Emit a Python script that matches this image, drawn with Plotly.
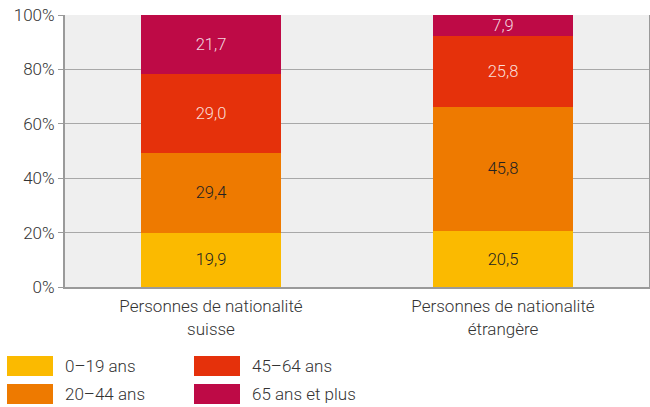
import plotly.graph_objects as go

categories = ["Personnes de nationalité<br>suisse", "Personnes de nationalité<br>étrangère"]
series_names = ["0–19 ans", "20–44 ans", "45–64 ans", "65 ans et plus"]
values_0_19 = [19.9, 20.5]
values_20_44 = [29.4, 45.8]
values_45_64 = [29.0, 25.8]
values_65 = [21.7, 7.9]
y_tick_vals = [0, 20, 40, 60, 80, 100]
y_tick_text = ["0%", "20%", "40%", "60%", "80%", "100%"]

colors = ["#FBBA00", "#EE7A00", "#E5310B", "#BE0A46"]
text_colors = ["#222222", "#222222", "rgba(255,255,255,0.85)", "rgba(255,255,255,0.85)"]
all_values = [values_0_19, values_20_44, values_45_64, values_65]

FONT = "Roboto"
FS = 17
PW = 584  # plot width in px
PH = 272  # plot height in px

fig = go.Figure()
for name, vals, col, tcol in zip(series_names, all_values, colors, text_colors):
    fig.add_trace(go.Bar(
        x=categories, y=vals, name=name,
        marker=dict(color=col, line=dict(width=0)),
        texttemplate="%{y:.1f}", textposition="inside", insidetextanchor="middle",
        textangle=0,
        textfont=dict(family=FONT, size=16.5, color=tcol, weight=300),
        showlegend=False,
    ))

# custom legend (two columns, wide patches)
legend_pos = [(7, 356), (7, 384), (194, 356), (194, 384)]
W, H = 650, 407
for (lx, ly), name, col in zip(legend_pos, series_names, colors):
    fig.add_shape(type="rect", xref="paper", yref="paper",
                  x0=(lx - 65) / PW, x1=(lx + 46 - 65) / PW,
                  y0=(287 - ly) / PH, y1=(287 - ly - 20) / PH,
                  fillcolor=col, line=dict(width=0), layer="above")
    fig.add_annotation(xref="paper", yref="paper",
                       x=(lx + 56 - 65) / PW, y=(287 - ly - 10) / PH,
                       text=name, showarrow=False, xanchor="left", yanchor="middle",
                       font=dict(family=FONT, size=FS, color="#333333", weight=300))

fig.update_layout(
    width=W, height=H,
    barmode="stack", bargap=0.521,
    separators=", ",
    uniformtext=dict(minsize=16.5, mode="show"),
    margin=dict(l=65, r=1, t=15, b=120, autoexpand=False),
    paper_bgcolor="white", plot_bgcolor="#EFEFEF",
    font=dict(family=FONT, size=FS, color="#333333", weight=300),
    showlegend=False,
)
fig.update_yaxes(range=[0, 100], tickvals=y_tick_vals, ticktext=y_tick_text,
                 showgrid=True, gridcolor="#A8A8A8", gridwidth=1,
                 showline=True, linecolor="#9A9A9A", linewidth=2, mirror=True,
                 ticks="outside", ticklen=5, tickcolor="#9A9A9A",
                 tickfont=dict(family=FONT, size=FS, color="#333333", weight=300),
                 zeroline=False, fixedrange=True, automargin=False)
fig.update_xaxes(showline=True, linecolor="#9A9A9A", linewidth=2,
                 tickfont=dict(family=FONT, size=FS, color="#333333", weight=300),
                 ticks="", ticklabelstandoff=3, fixedrange=True, automargin=False)

fig.write_html("out.html", config={"displayModeBar": False},
               post_script="document.body.style.margin='0';document.body.style.padding='0';")
